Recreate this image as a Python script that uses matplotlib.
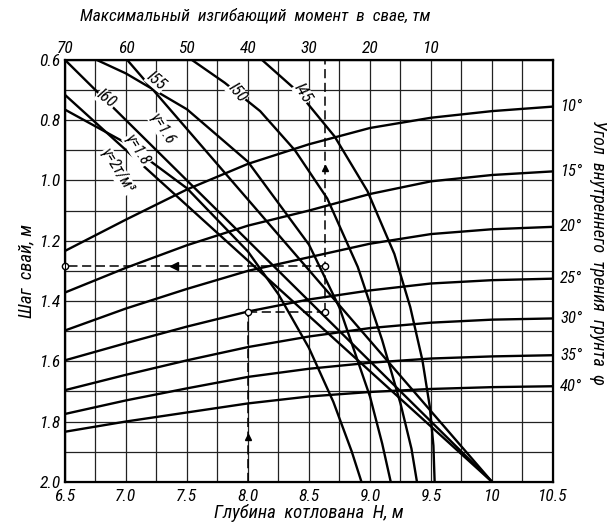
import numpy as np
import matplotlib.pyplot as plt
from matplotlib import font_manager

# узкий шрифт, если найдется
names = {f.name for f in font_manager.fontManager.ttflist}
narrow = [n for n in ['Liberation Sans Narrow', 'DejaVu Sans Condensed', 'Roboto Condensed',
                      'Open Sans Condensed'] if n in names]
plt.rcParams['font.family'] = narrow + ['DejaVu Sans']
plt.rcParams['font.style'] = 'italic'
plt.rcParams['font.stretch'] = 'condensed'

# глубина котлована H, м
H = [6.5, 7.0, 7.5, 8.0, 8.5, 9.0, 9.5, 10.0, 10.5]

# кривые угла внутреннего трения (шаг свай при H)
phi_labels = ['10°', '15°', '20°', '25°', '30°', '35°', '40°']
phi_curves = [
    [1.234, 1.13, 1.03, 0.945, 0.88, 0.826, 0.792, 0.77, 0.755],
    [1.372, 1.29, 1.215, 1.15, 1.10, 1.045, 1.003, 0.982, 0.97],
    [1.498, 1.425, 1.36, 1.30, 1.255, 1.21, 1.178, 1.162, 1.154],
    [1.597, 1.54, 1.485, 1.435, 1.395, 1.365, 1.342, 1.331, 1.326],
    [1.696, 1.645, 1.597, 1.553, 1.518, 1.49, 1.472, 1.462, 1.458],
    [1.775, 1.73, 1.69, 1.652, 1.625, 1.605, 1.591, 1.584, 1.58],
    [1.834, 1.80, 1.77, 1.74, 1.717, 1.702, 1.692, 1.686, 1.683],
]

# двутавры
I45_x = [8.115, 8.41, 8.71, 8.98, 9.20, 9.33, 9.43, 9.49, 9.52, 9.53]
I45_y = [0.6, 0.706, 0.854, 1.036, 1.244, 1.42, 1.597, 1.75, 1.88, 2.0]
I50_x = [7.54, 7.81, 8.1, 8.385, 8.65, 8.90, 9.1, 9.25, 9.34, 9.385]
I50_y = [0.6, 0.676, 0.77, 0.90, 1.06, 1.287, 1.53, 1.74, 1.89, 2.0]
I55_x = [6.76, 7.0, 7.5, 8.0, 8.5, 8.75, 9.0, 9.1, 9.17]
I55_y = [0.6, 0.645, 0.764, 0.938, 1.213, 1.422, 1.717, 1.873, 2.0]
I60_x = [6.5, 7.0, 7.5, 8.0, 8.25, 8.5, 8.7, 8.85, 8.93]
I60_y = [0.765, 0.876, 1.026, 1.236, 1.378, 1.556, 1.735, 1.899, 2.0]

# объемный вес грунта (прямые к точке H=10, шаг 2.0)
g_lines = [
    ([7.01, 10.0], [0.6, 2.0]),
    ([6.5, 10.0], [0.6, 2.0]),
    ([6.5, 10.0], [0.716, 2.0]),
]

moment_ticks = [70, 60, 50, 40, 30, 20, 10]

fig = plt.figure(figsize=(6.07, 5.30), dpi=100)
ax = fig.add_axes([0.107, 0.091, 0.804, 0.796])
lw = 1.7
for c in phi_curves:
    ax.plot(H, c, color='k', lw=lw)
for xs, ys in [(I45_x, I45_y), (I50_x, I50_y), (I55_x, I55_y), (I60_x, I60_y)] + g_lines:
    ax.plot(xs, ys, color='k', lw=lw)

ax.set_xlim(6.5, 10.5)
ax.set_ylim(2.0, 0.6)
ax.set_xticks(np.arange(6.5, 10.51, 0.25), minor=True)
ax.set_xticks([6.5, 7.0, 7.5, 8.0, 8.5, 9.0, 9.5, 10, 10.5])
ax.set_xticklabels(['6.5', '7.0', '7.5', '8.0', '8.5', '9.0', '9.5', '10', '10.5'])
ax.set_yticks(np.arange(0.6, 2.01, 0.1), minor=True)
ax.set_yticks([0.6, 0.8, 1.0, 1.2, 1.4, 1.6, 1.8, 2.0])
ax.set_yticklabels(['0.6', '0.8', '1.0', '1.2', '1.4', '1.6', '1.8', '2.0'])
ax.grid(which='both', color='#222222', lw=0.9)
ax.tick_params(axis='x', which='both', length=0, labelsize=12.5, pad=5)
ax.tick_params(axis='y', which='both', length=0, labelsize=12.5, pad=3)
for s in ax.spines.values():
    s.set_linewidth(1.6)

ax.set_xlabel('Глубина  котлована  H, м', fontsize=13.5, labelpad=0)
ax.set_ylabel('Шаг  свай, м', fontsize=13.5, labelpad=3)

top = ax.twiny()
top.set_xlim(6.5, 10.5)
top.set_xticks([6.5 + (70 - m) / 20 for m in moment_ticks])
top.set_xticklabels([str(m) for m in moment_ticks])
top.tick_params(length=0, labelsize=12.5, pad=3)
fig.text(0.42, 0.970, 'Максимальный  изгибающий  момент  в  свае, тм', fontsize=12.5,
         ha='center', va='center')

for lab, c in zip(phi_labels, phi_curves):
    ax.text(10.56, c[-1], lab, fontsize=12, va='center', clip_on=False)
ax.text(10.87, 1.24, 'Угол  внутреннего  трения  грунта  φ', rotation=270, fontsize=13,
        va='center', ha='center', clip_on=False)

# подписи кривых
box = dict(facecolor='white', edgecolor='none', pad=0.3)
ax.text(6.84, 0.73, 'I60', rotation=-38, fontsize=12, ha='center', va='center', bbox=box)
ax.text(7.25, 0.67, 'I55', rotation=-40, fontsize=12, ha='center', va='center', bbox=box)
ax.text(7.91, 0.71, 'I50', rotation=-50, fontsize=12, ha='center', va='center', bbox=box)
ax.text(8.45, 0.71, 'I45', rotation=-58, fontsize=12, ha='center', va='center', bbox=box)
ax.text(7.30, 0.83, 'γ=1.6', rotation=-58, fontsize=11.5, ha='center', va='center', bbox=box)
ax.text(7.09, 0.90, 'γ=1.8', rotation=-58, fontsize=11.5, ha='center', va='center', bbox=box)
ax.text(6.93, 0.97, 'γ=2т/м³', rotation=-58, fontsize=11.5, ha='center', va='center', bbox=box)

# пример пользования номограммой
dash = dict(color='k', lw=1.1, ls=(0, (6, 3)))
ax.plot([8.0, 8.0], [2.0, 1.435], **dash)
ax.plot([8.0, 8.63], [1.435, 1.435], **dash)
ax.plot([8.63, 8.63], [1.435, 0.6], **dash)
ax.plot([8.63, 6.5], [1.283, 1.283], **dash)
ax.plot([8.0], [1.85], marker='^', color='k', ms=5)
ax.plot([8.63], [0.96], marker='^', color='k', ms=5)
ax.plot([7.39], [1.283], marker='<', color='k', ms=6)
ax.plot([6.5, 8.0, 8.63, 8.63], [1.283, 1.435, 1.435, 1.283], 'o', mfc='white', mec='k',
        ms=4.5, clip_on=False, zorder=5)

plt.savefig('out.png')
